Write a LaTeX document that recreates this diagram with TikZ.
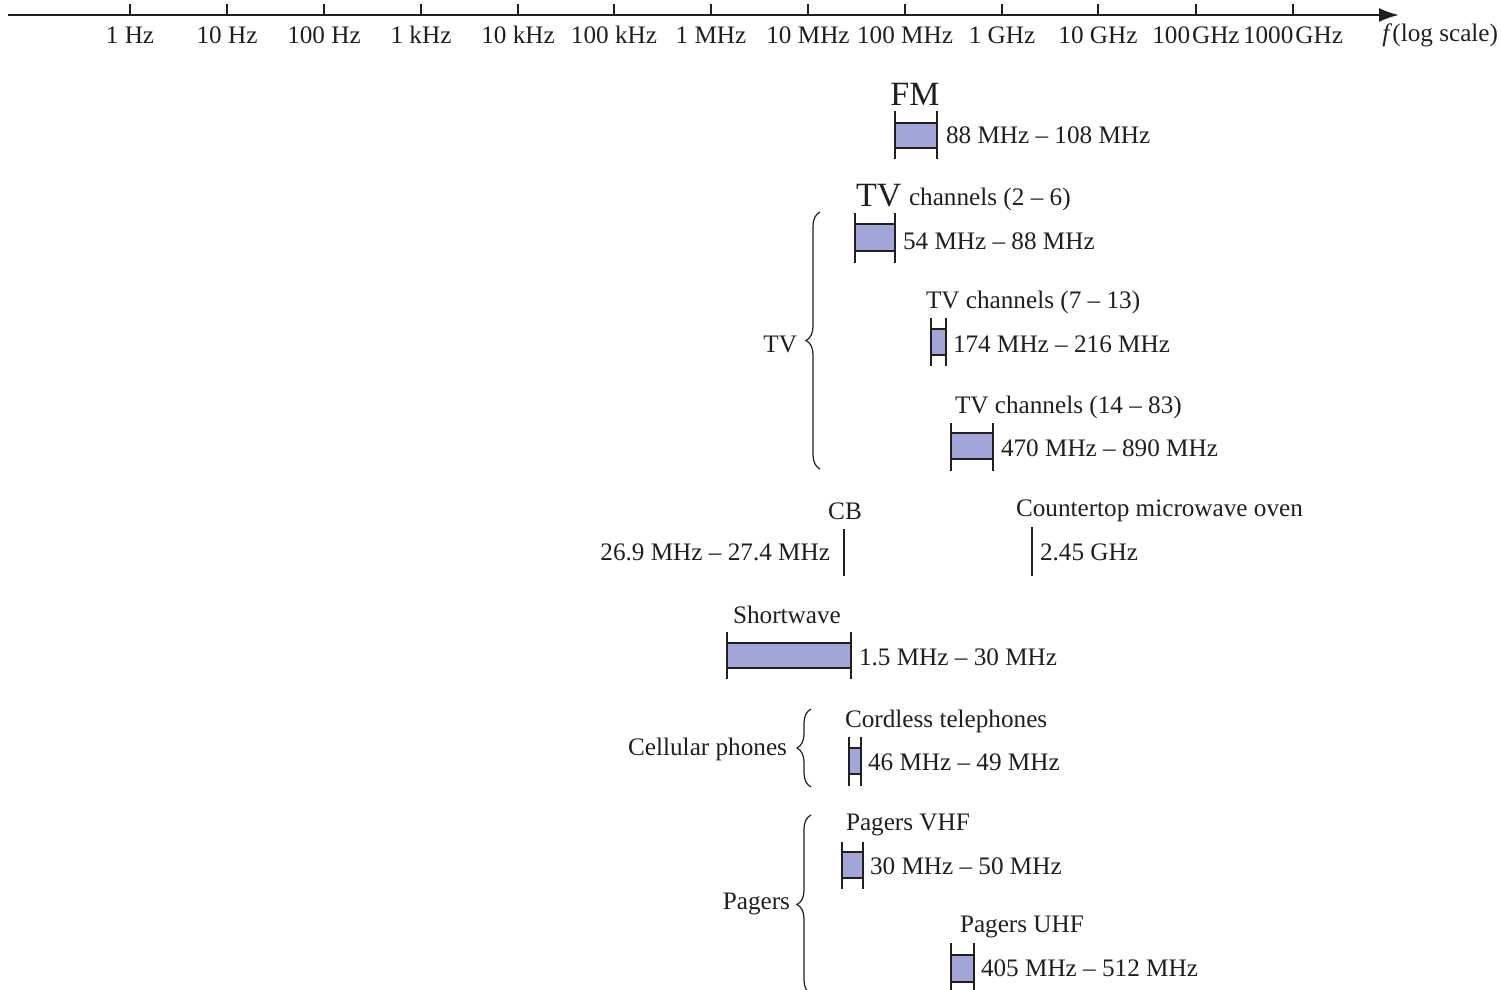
\documentclass[tikz,border=0pt]{standalone}
\usepackage{fontspec}
\setmainfont{Liberation Serif}
\usetikzlibrary{arrows.meta,decorations.pathreplacing}
\definecolor{bandfill}{RGB}{162,165,216}
\definecolor{ink}{RGB}{35,30,30}
\newcommand\bandbox[6]{%
  \fill[bandfill] (#1,#3) rectangle (#2,#4);
  \draw[bandline] (#1,#3) -- (#2,#3) (#1,#4) -- (#2,#4);
  \draw[bandline] (#1,#5) -- (#1,#6) (#2,#5) -- (#2,#6);
}
\begin{document}
\begin{tikzpicture}[x=0.5pt,y=-0.5pt,
  every node/.style={inner sep=0pt,outer sep=0pt,text=ink,font=\fontsize{12.6}{14}\selectfont},
  big/.style={font=\fontsize{17}{19}\selectfont},
  bandline/.style={draw=ink,line width=0.8pt},
  tick/.style={draw=ink,line width=0.6pt},
  bracestyle/.style={draw=ink,line width=0.6pt,decorate,decoration={brace,amplitude=7pt}}]
\useasboundingbox (0,0) rectangle (1501,990);
% axis
\coordinate (axL) at (8,15);
\coordinate (axR) at (1399,15);
\draw[draw=ink,line width=1.2pt,-{Latex[length=10pt,width=7pt]}] (axL) -- (axR);
\foreach \x/\lab [count=\i] in {130/1 Hz,227/10 Hz,324/100 Hz,421/1 kHz,518/10 kHz,614/100 kHz,711/1 MHz,808/10 MHz,905/100 MHz,1002/1 GHz,1098/10 GHz,1196/100\kern1pt GHz,1293/1000\kern1pt GHz}{
  \draw[tick] (\x,4) -- (\x,15);
  \node (t\i) at (\x,35) {\lab};
}
\node[anchor=east] (flab) at (1498,35) {\textit{f}(log scale)};
% FM
\node[big] (fm) at (915,94) {FM};
\bandbox{895}{937}{123}{148}{111}{159}
\node[anchor=west] (fmr) at (946,135) {88 MHz – 108 MHz};
% TV 2-6
\node[big,anchor=west] (tvbig) at (856,196) {TV};
\node[anchor=west] (tv26) at (909,199) {channels (2 – 6)};
\bandbox{855}{895}{224}{251}{213}{263}
\node[anchor=west] (tv26r) at (903,241) {54 MHz – 88 MHz};
% TV 7-13
\node[anchor=west] (tv713) at (926,302) {TV channels (7 – 13)};
\bandbox{931}{946}{329}{355}{318}{366}
\node[anchor=west] (tv713r) at (953,344) {174 MHz – 216 MHz};
% TV 14-83
\node[anchor=west] (tv1483) at (955,407) {TV channels (14 – 83)};
\bandbox{951}{993}{433}{459}{423}{471}
\node[anchor=west] (tv1483r) at (1001,448) {470 MHz – 890 MHz};
% TV brace
\coordinate (tvb1) at (820,469);
\coordinate (tvb2) at (820,212);
\draw[bracestyle] (tvb1) -- (tvb2);
\node[anchor=east] (tv) at (797,344) {TV};
% CB
\node (cb) at (845,511) {CB};
\coordinate (cb1) at (844,529);
\coordinate (cb2) at (844,576);
\draw[draw=ink,line width=1.4pt] (cb1) -- (cb2);
\node[anchor=east] (cbr) at (830,552) {26.9 MHz – 27.4 MHz};
% microwave
\node[anchor=west] (mw) at (1016,511) {Countertop microwave oven};
\coordinate (mw1) at (1032,527);
\coordinate (mw2) at (1032,576);
\draw[draw=ink,line width=0.6pt] (mw1) -- (mw2);
\node[anchor=west] (mwr) at (1040,552) {2.45 GHz};
% Shortwave
\node (sw) at (787,615) {Shortwave};
\bandbox{727}{851}{643}{668}{632}{679}
\node[anchor=west] (swr) at (859,657) {1.5 MHz – 30 MHz};
% Cellular
\node[anchor=west] (cord) at (845,721) {Cordless telephones};
\bandbox{849}{861}{748}{774}{737}{786}
\node[anchor=west] (cordr) at (868,762) {46 MHz – 49 MHz};
\coordinate (cb3) at (811,787);
\coordinate (cb4) at (811,709);
\draw[bracestyle] (cb3) -- (cb4);
\node[anchor=east] (cell) at (787,749) {Cellular phones};
% Pagers
\node[anchor=west] (pvhf) at (846,825) {Pagers VHF};
\bandbox{842}{863}{852}{878}{842}{889}
\node[anchor=west] (pvhfr) at (870,866) {30 MHz – 50 MHz};
\node[anchor=west] (puhf) at (960,927) {Pagers UHF};
\bandbox{951}{974}{955}{982}{943}{995}
\node[anchor=west] (puhfr) at (981,968) {405 MHz – 512 MHz};
\coordinate (pb1) at (811,994);
\coordinate (pb2) at (811,815);
\draw[bracestyle] (pb1) -- (pb2);
\node[anchor=east] (pag) at (790,904) {Pagers};
\end{tikzpicture}
\end{document}
